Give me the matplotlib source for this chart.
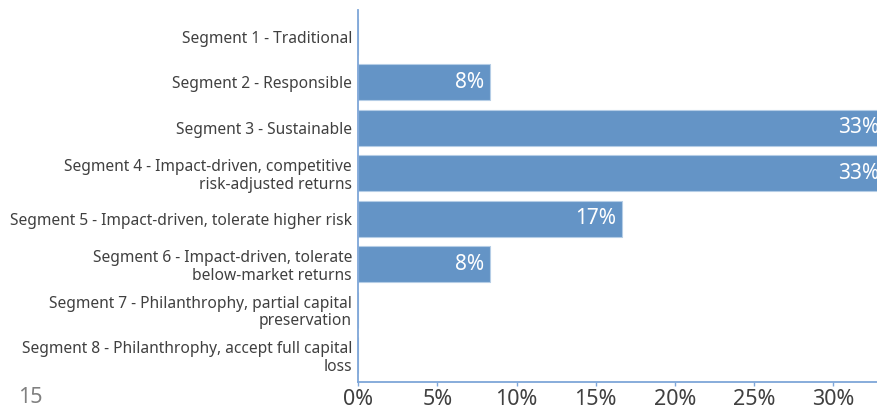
import matplotlib.pyplot as plt

# Data
segments = [
    'Segment 1 - Traditional',
    'Segment 2 - Responsible',
    'Segment 3 - Sustainable',
    'Segment 4 - Impact-driven, competitive\nrisk-adjusted returns',
    'Segment 5 - Impact-driven, tolerate higher risk',
    'Segment 6 - Impact-driven, tolerate\nbelow-market returns',
    'Segment 7 - Philanthrophy, partial capital\npreservation',
    'Segment 8 - Philanthrophy, accept full capital\nloss',
]
shares = [0, 8.33, 33.33, 33.33, 16.67, 8.33, 0, 0]
xticks = [0, 5, 10, 15, 20, 25, 30]
page_number = '15'

bar_color = '#6494c6'
spine_color = '#7ea6d8'
text_color = '#404040'

plt.rcParams['font.family'] = ['Noto Sans', 'DejaVu Sans']

fig = plt.figure(figsize=(8.78, 4.09), dpi=100)
ax = fig.add_axes([0.408, 0.0667, 0.592, 0.909])

ypos = list(range(len(segments)))
ax.barh(ypos, shares, height=0.79, color=bar_color, edgecolor='#b5cde6', linewidth=0.8)

# value labels inside the bars
for y, v in zip(ypos, shares):
    if v > 0:
        ax.annotate(f'{round(v)}%', xy=(v, y), xytext=(-4.5, 0), textcoords='offset points',
                    ha='right', va='center', color='white', fontsize=15, annotation_clip=False)

ax.set_xlim(0, 32.83)
ax.set_ylim(7.585, -0.585)
ax.set_yticks(ypos)
ax.set_yticklabels(segments, fontsize=11.2, color=text_color, linespacing=1.15)
ax.set_xticks(xticks)
ax.set_xticklabels([f'{t}%' for t in xticks], fontsize=15.5, color=text_color)
ax.tick_params(axis='y', length=0, pad=4.5)
ax.tick_params(axis='x', length=3, width=1, color=spine_color, pad=2)

for side in ['top', 'right']:
    ax.spines[side].set_visible(False)
for side in ['left', 'bottom']:
    ax.spines[side].set_color(spine_color)
    ax.spines[side].set_linewidth(1.3)

fig.text(18 / 878, 1 / 409, page_number, fontsize=15.5, color='#808080', ha='left', va='bottom')

fig.savefig('out.png', dpi=100)
